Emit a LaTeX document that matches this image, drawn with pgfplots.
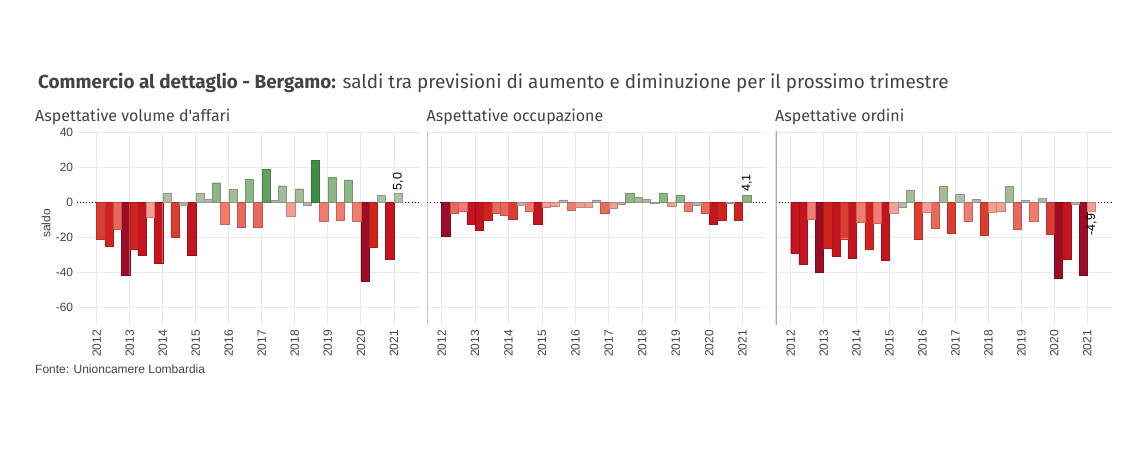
\documentclass[border=0pt]{standalone}
\usepackage{fontspec}
\setmainfont{Liberation Sans}
\newfontfamily\titlefont{Fira Sans}
\usepackage{pgfplots}
\usepackage{pgfplotstable}
\pgfplotsset{compat=1.18}

\definecolor{txt}{HTML}{444444}
\definecolor{gridc}{HTML}{EBEBEB}
\definecolor{axc}{HTML}{AAAAAA}
\definecolor{c1}{HTML}{9B0D26}
\definecolor{c2}{HTML}{C3141F}
\definecolor{c3}{HTML}{D2221F}
\definecolor{c4}{HTML}{DC3D31}
\definecolor{c5}{HTML}{E8685C}
\definecolor{c6}{HTML}{F07C70}
\definecolor{c7}{HTML}{F2A096}
\definecolor{c8}{HTML}{B5B5B5}
\definecolor{c9}{HTML}{ADC0A6}
\definecolor{c10}{HTML}{A2BC98}
\definecolor{c11}{HTML}{8FB687}
\definecolor{c12}{HTML}{5EA05D}
\definecolor{c13}{HTML}{3D8D45}

% i = quarter index (1 = 2012 Q1), y = saldo, c = colour class
\pgfplotstableread{
i y c
1 -21.1 4
2 -25.1 3
3 -15.3 5
4 -41.4 1
5 -26.6 3
6 -30.1 2
7 -8.5 7
8 -34.8 2
9 4.9 9
10 -20.0 4
11 -1.9 8
12 -30.3 2
13 4.9 9
14 1.5 8
15 11.1 11
16 -12.8 6
17 7.2 10
18 -14.5 5
19 13.2 11
20 -14.0 5
21 18.9 12
22 0.9 8
23 9.4 10
24 -7.9 7
25 7.7 10
26 -1.5 8
27 24.0 13
28 -10.6 6
29 14.0 11
30 -10.0 6
31 12.8 11
32 -10.9 6
33 -44.8 1
34 -25.6 3
35 3.8 9
36 -32.4 2
37 5.0 9
}\tabA

\pgfplotstableread{
i y c
1 -19.2 1
2 -6.2 5
3 -4.9 6
4 -12.8 2
5 -15.7 2
6 -10.4 3
7 -6.2 5
8 -7.5 5
9 -9.4 4
10 -1.7 8
11 -4.9 6
12 -12.8 2
13 -2.8 7
14 -2.1 7
15 1.3 8
16 -4.5 6
17 -3.0 7
18 -3.0 7
19 1.3 8
20 -6.4 5
21 -3.6 7
22 -1.1 8
23 5.3 11
24 3.0 10
25 1.9 8
26 -0.8 8
27 5.3 11
28 -2.3 7
29 4.2 11
30 -4.9 6
31 -1.7 8
32 -6.2 5
33 -12.8 2
34 -10.0 3
35 -0.6 8
36 -10.0 3
37 4.1 11
}\tabB

\pgfplotstableread{
i y c
1 -29.2 2
2 -35.4 2
3 -9.6 6
4 -40.1 1
5 -26.4 3
6 -30.7 2
7 -20.8 4
8 -32.0 2
9 -11.5 6
10 -27.0 3
11 -12.1 6
12 -33.2 2
13 -6.4 7
14 -2.8 8
15 6.8 10
16 -21.3 4
17 -5.8 7
18 -14.7 5
19 9.1 10
20 -17.5 4
21 4.5 9
22 -10.9 6
23 1.7 8
24 -18.7 4
25 -5.8 7
26 -5.1 7
27 9.1 10
28 -15.3 5
29 1.1 8
30 -10.6 6
31 2.3 8
32 -18.1 4
33 -43.5 1
34 -32.4 2
35 -1.1 8
36 -41.6 1
37 -4.9 7
}\tabC

\tikzset{ann/.style={font=\fontsize{12.5}{14}\selectfont, text=black, rotate=90, inner xsep=3pt, inner ysep=0pt}}

\pgfplotsset{
  bars/.style={ybar, bar width=0.25, bar shift=0pt, fill=c#1, draw=c#1!82!black, line width=0.4pt},
  panel/.style={
    scale only axis, anchor=south west, height=194pt,
    ymin=-70, ymax=40.6,
    xtick={2012,2013,2014,2015,2016,2017,2018,2019,2020,2021},
    xticklabels={2012,2013,2014,2015,2016,2017,2018,2019,2020,2021},
    ytick={-60,-40,-20,0,20,40},
    yticklabels={-60,-40,-20,0,20,40},
    grid=major, major grid style={draw=gridc, line width=0.8pt},
    major tick length=0pt,
    axis line style={draw=none},
    tick label style={font=\fontsize{12}{14}\selectfont, text=txt},
    xticklabel style={rotate=90, anchor=east, inner xsep=5pt, inner ysep=0pt},
    yticklabel style={anchor=east, inner xsep=3.4pt, inner ysep=0pt},
    extra y ticks={0}, extra y tick labels={},
    extra y tick style={grid=major, grid style={draw=black, line width=0.8pt, dash pattern=on 0.9pt off 2.2pt},
      major grid style={draw=black, line width=0.8pt, dash pattern=on 0.9pt off 2.2pt}},
  },
}

\begin{document}
\begin{tikzpicture}[x=1pt,y=1pt]
\fill[white] (0,0) rectangle (1144,463);
\useasboundingbox (0,0) rectangle (1144,463);

\node[anchor=base west, inner sep=0pt, text=txt, font=\titlefont\fontsize{18.9}{22}\selectfont] at (38,374)
  {\textbf{Commercio al dettaglio - Bergamo:} saldi tra previsioni di aumento e diminuzione per il prossimo trimestre};
\node[anchor=base west, inner sep=0pt, text=txt, font=\titlefont\fontsize{16}{19}\selectfont] at (35,341) {Aspettative volume d'affari};
\node[anchor=base west, inner sep=0pt, text=txt, font=\titlefont\fontsize{16}{19}\selectfont] at (426.5,341) {Aspettative occupazione};
\node[anchor=base west, inner sep=0pt, text=txt, font=\titlefont\fontsize{16}{19}\selectfont] at (775,341) {Aspettative ordini};
\node[rotate=90, text=txt, font=\fontsize{12}{14}\selectfont] at (46,239.5) {saldo};
\node[anchor=base west, inner sep=0pt, text=txt, font=\fontsize{12}{14}\selectfont] at (35,89.5) {Fonte: Unioncamere Lombardia};

% Panel 1
\begin{axis}[panel, at={(76.7pt,138pt)}, width=343.3pt, xmin=2011.395, xmax=2021.79]
\pgfplotsinvokeforeach{1,2,3,4,5,6,7,8,9,10,11,12,13}{
  \addplot[bars=#1, restrict expr to domain={\thisrow{c}}{#1:#1}] table[x expr=2011.875+0.25*\thisrow{i}, y=y] {\tabA};
}
\node[ann, anchor=west] at (axis cs:2021.125,5.0) {5,0};
\end{axis}

% Panel 2
\begin{axis}[panel, at={(427.3pt,138pt)}, width=338.7pt, xmin=2011.57, xmax=2021.70, yticklabels={}]
\pgfplotsinvokeforeach{1,2,3,4,5,6,7,8,10,11}{
  \addplot[bars=#1, restrict expr to domain={\thisrow{c}}{#1:#1}] table[x expr=2011.875+0.25*\thisrow{i}, y=y] {\tabB};
}
\draw[axc, line width=1.6pt] (rel axis cs:0,0) -- (rel axis cs:0,1);
\node[ann, anchor=west] at (axis cs:2021.125,4.1) {4,1};
\end{axis}

% Panel 3
\begin{axis}[panel, at={(775.7pt,138pt)}, width=336pt, xmin=2011.545, xmax=2021.74, yticklabels={}]
\pgfplotsinvokeforeach{1,2,3,4,5,6,7,8,9,10}{
  \addplot[bars=#1, restrict expr to domain={\thisrow{c}}{#1:#1}] table[x expr=2011.875+0.25*\thisrow{i}, y=y] {\tabC};
}
\draw[axc, line width=1.6pt] (rel axis cs:0,0) -- (rel axis cs:0,1);
\node[ann, anchor=east] at (axis cs:2021.125,-4.9) {-4,9};
\end{axis}
\end{tikzpicture}
\end{document}
